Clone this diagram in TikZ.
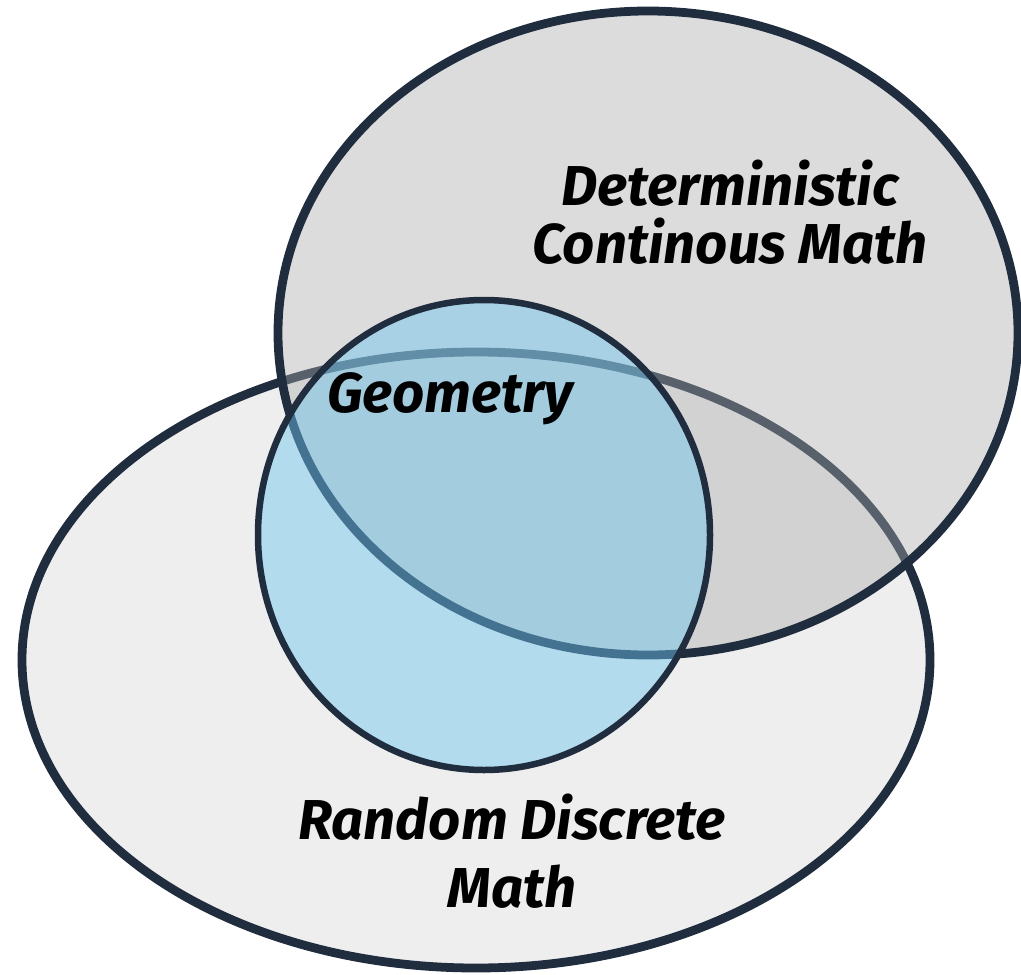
\documentclass[tikz,border=0pt]{standalone}
\usepackage{fontspec}
\setmainfont{Fira Sans}
\definecolor{edge}{RGB}{31,45,63}
\definecolor{lowfill}{RGB}{238,238,238}
\definecolor{topfill}{RGB}{170,170,170}
\definecolor{geofill}{RGB}{110,198,240}
\tikzset{
  rim/.style={draw=edge, line width=5pt},
  tag/.style={align=center, text=black, font=\bfseries\itshape\fontsize{32}{33}\selectfont}
}
\begin{document}
\begin{tikzpicture}[x=0.02cm,y=-0.02cm]
\useasboundingbox (0,0) rectangle (1021,974);
% the three sets
\draw[rim, fill=lowfill] (476,660) ellipse [x radius=454, y radius=308];
\draw[rim, fill=topfill, fill opacity=0.41] (648,333) ellipse [x radius=370, y radius=322];
\draw[rim, line width=3.7pt, fill=geofill, fill opacity=0.46] (484,535) ellipse [x radius=226, y radius=235];
% labels
\node[tag] (determ) at (730,212) {Deterministic\\Continous Math};
\node[tag] (geom) at (450,399) {Geometry};
\node[tag, font=\bfseries\itshape\fontsize{32}{38.5}\selectfont] (random) at (512,851) {Random Discrete\\Math};
\end{tikzpicture}
\end{document}
